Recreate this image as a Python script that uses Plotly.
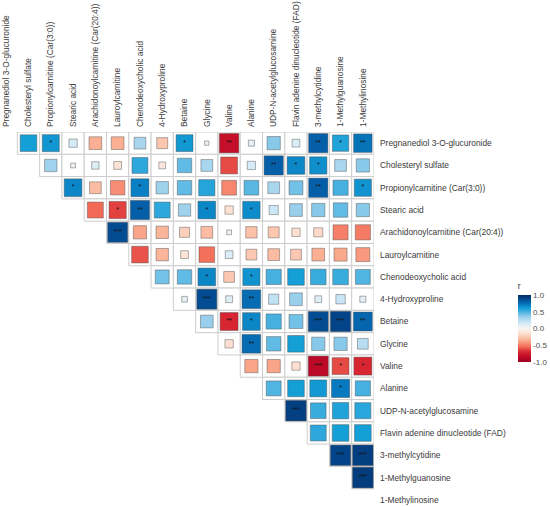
import numpy as np
import plotly.graph_objects as go

labels = [
    "Pregnanediol 3-O-glucuronide",
    "Cholesteryl sulfate",
    "Propionylcarnitine (Car(3:0))",
    "Stearic acid",
    "Arachidonoylcarnitine (Car(20:4))",
    "Lauroylcarnitine",
    "Chenodeoxycholic acid",
    "4-Hydroxyproline",
    "Betaine",
    "Glycine",
    "Valine",
    "Alanine",
    "UDP-N-acetylglucosamine",
    "Flavin adenine dinucleotide (FAD)",
    "3-methylcytidine",
    "1-Methylguanosine",
    "1-Methylinosine",
]

# upper-triangle correlations: row i holds columns i+1 .. 16
r_rows = [
    [0.60, 0.63, 0.15, -0.35, -0.35, 0.30, -0.26, 0.62, 0.04, -0.82, 0.08, 0.38, 0.13, 0.80, 0.58, 0.74],
    [0.33, 0.05, 0.12, -0.13, 0.55, -0.10, 0.45, 0.30, -0.62, 0.15, 0.80, 0.68, 0.65, 0.30, 0.38],
    [0.68, -0.30, -0.45, 0.70, 0.33, 0.45, 0.57, -0.47, 0.47, 0.30, 0.42, 0.80, 0.50, 0.64],
    [-0.55, -0.64, 0.80, 0.55, 0.33, 0.68, -0.15, 0.66, 0.18, 0.35, 0.38, 0.45, 0.38],
    [0.87, -0.38, -0.33, -0.22, -0.30, 0.05, -0.28, -0.26, -0.15, -0.18, -0.49, -0.50],
    [-0.60, -0.33, -0.13, -0.53, 0.13, -0.25, -0.30, -0.25, -0.35, -0.37, -0.42],
    [0.42, 0.45, 0.68, -0.25, 0.64, 0.50, 0.60, 0.53, 0.53, 0.48],
    [0.07, 0.87, 0.10, 0.76, 0.22, 0.35, 0.10, 0.19, 0.08],
    [0.35, -0.70, 0.68, 0.50, 0.42, 0.87, 0.90, 0.78],
    [-0.15, 0.76, 0.45, 0.60, 0.38, 0.38, 0.25],
    [-0.38, -0.38, -0.15, -0.87, -0.62, -0.70],
    [0.48, 0.60, 0.62, 0.72, 0.50],
    [0.92, 0.53, 0.58, 0.56],
    [0.55, 0.60, 0.60],
    [0.90, 0.92],
    [0.93],
]

star_rows = [
    ["", "*", "", "", "", "", "", "*", "", "**", "", "", "", "**", "*", "**"],
    ["", "", "", "", "", "", "", "", "", "", "**", "*", "*", "", ""],
    ["*", "", "", "*", "", "", "", "", "", "", "", "**", "", "*"],
    ["", "*", "**", "", "", "*", "", "*", "", "", "", "", ""],
    ["***", "", "", "", "", "", "", "", "", "", "", ""],
    ["", "", "", "", "", "", "", "", "", "", ""],
    ["", "", "*", "", "*", "", "", "", "", ""],
    ["", "***", "", "**", "", "", "", "", ""],
    ["", "**", "*", "", "", "***", "***", "**"],
    ["", "**", "", "", "", "", ""],
    ["", "", "", "***", "*", "*"],
    ["", "", "", "*", ""],
    ["***", "", "", ""],
    ["", "", ""],
    ["***", "***"],
    ["***"],
]

colorscale = [
    [0.000, "#9e0022"],
    [0.075, "#bf0a28"],
    [0.150, "#d72532"],
    [0.225, "#f26a55"],
    [0.325, "#fbb093"],
    [0.425, "#fde0d2"],
    [0.500, "#f7f4f2"],
    [0.575, "#d5ebf7"],
    [0.675, "#99cfec"],
    [0.750, "#46b1e0"],
    [0.800, "#159fd7"],
    [0.850, "#0880c3"],
    [0.900, "#055fa8"],
    [0.950, "#034489"],
    [1.000, "#052c62"],
]

n = len(labels)
xs, ys, rs, st = [], [], [], []
for i, row in enumerate(r_rows):
    for k, v in enumerate(row):
        xs.append(i + 1 + k)
        ys.append(i)
        rs.append(v)
        st.append(star_rows[i][k])
rs = np.array(rs)

PITCH = 22.3
size_px = 21.5 * np.sqrt(np.abs(rs))

fig = go.Figure()

# grid cells
fig.add_trace(go.Scatter(
    x=xs, y=ys, mode="markers", hoverinfo="skip",
    marker=dict(symbol="square", size=PITCH, color="white", opacity=1,
                line=dict(color="#cdcdcd", width=1)),
))

# coloured squares
fig.add_trace(go.Scatter(
    x=xs, y=ys, mode="markers",
    marker=dict(
        symbol="square", size=size_px, color=rs, opacity=1,
        colorscale=colorscale, cmin=-1, cmax=1,
        line=dict(color="rgba(80,80,80,0.45)", width=1),
        showscale=True,
        colorbar=dict(
            title=dict(text="r", side="top", font=dict(size=8.5, color="#333333")),
            thickness=13, thicknessmode="pixels",
            len=82, lenmode="pixels",
            x=518 / 374.2, xanchor="left",
            y=(507 - 321) / 375.15, yanchor="middle",
            xpad=0, ypad=0, outlinewidth=0,
            tickvals=[-1, -0.5, 0, 0.5, 1],
            ticktext=["-1.0", "-0.5", "0.0", "0.5", "1.0"],
            ticks="", tickfont=dict(size=8, color="#4d4d4d"),
        ),
    ),
    text=[f"{v:.2f}" for v in rs], hoverinfo="text",
))

# significance stars
fig.add_trace(go.Scatter(
    x=xs, y=ys, mode="text", text=st, hoverinfo="skip",
    textposition="middle center",
    textfont=dict(size=7, color="#111111", family="Liberation Sans, Arial"),
))

fig.update_layout(
    width=550, height=507,
    margin=dict(l=0, r=175.8, t=131.85, b=0, pad=0),
    plot_bgcolor="white", paper_bgcolor="white",
    showlegend=False,
    font=dict(family="Liberation Sans, Arial, sans-serif", size=8.4, color="#3a3a3a"),
    xaxis=dict(
        range=[-0.278, 16.5], tickmode="array",
        tickvals=list(range(n)), ticktext=labels,
        side="top", tickangle=-90, showgrid=False, zeroline=False,
        showline=False, ticks="", automargin=False, ticklabelstandoff=4,
        fixedrange=True,
    ),
    yaxis=dict(
        range=[16.32, -0.5], tickmode="array",
        tickvals=list(range(n)), ticktext=labels,
        side="right", showgrid=False, zeroline=False,
        showline=False, ticks="", automargin=False, ticklabelstandoff=5,
        fixedrange=True,
    ),
)

fig.write_html(
    "out.html",
    config={"displayModeBar": False},
    post_script="document.body.style.margin='0px';document.body.style.overflow='hidden';",
)
